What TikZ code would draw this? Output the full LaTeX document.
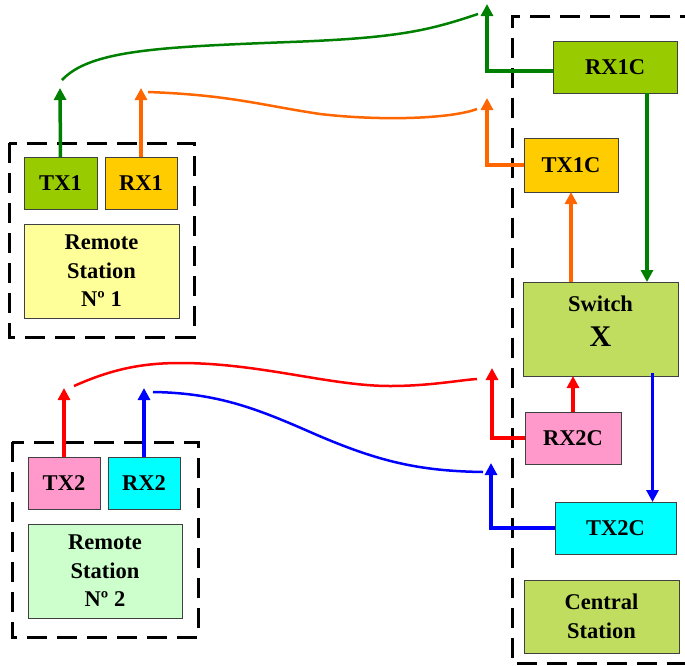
\documentclass[tikz,border=0pt]{standalone}
\usepackage{fontspec}
\setmainfont{Liberation Serif}
\usepackage{xcolor}
\usepackage{tikz}
\usetikzlibrary{arrows.meta}
\definecolor{txgreen}{RGB}{153,204,0}
\definecolor{rxorange}{RGB}{255,204,0}
\definecolor{remoteyellow}{RGB}{255,255,153}
\definecolor{txpink}{RGB}{255,153,204}
\definecolor{rxcyan}{RGB}{0,255,255}
\definecolor{remotemint}{RGB}{204,255,204}
\definecolor{centralolive}{RGB}{192,221,96}
\definecolor{wiregreen}{RGB}{0,128,0}
\definecolor{wireorange}{RGB}{255,102,0}

\begin{document}
\begin{tikzpicture}[x=1pt, y=-1pt,
  unit/.style={draw=black!75, line width=0.8pt, inner sep=0pt, outer sep=0pt, align=center, font=\bfseries\fontsize{22.5}{28.5}\selectfont},
  station/.style={draw=black, dash pattern=on 20pt off 10pt, line width=3pt},
  feed/.style={line width=3.5pt, -{Triangle[length=12pt,width=12pt]}},
  link/.style={line width=2.5pt}]
  \useasboundingbox (0,0) rectangle (685,665);
  % dashed station frames
  \draw[station] (9,143) rectangle (194,337);
  \draw[station] (12,442) rectangle (198,637);
  \draw[station] (700,16) -- (512,16) -- (512,663) -- (700,663);
  % remote station 1
  \node[unit, fill=txgreen, minimum width=73pt, minimum height=52pt] (tx1) at (60.5,183) {TX1};
  \node[unit, fill=rxorange, minimum width=72pt, minimum height=52pt] (rx1) at (141,183) {RX1};
  \node[unit, fill=remoteyellow, minimum width=155pt, minimum height=94pt] (rs1) at (101.5,271) {Remote\\Station\\Nº 1};
  % remote station 2
  \node[unit, fill=txpink, minimum width=72pt, minimum height=52pt] (tx2) at (64,483) {TX2};
  \node[unit, fill=rxcyan, minimum width=72pt, minimum height=52pt] (rx2) at (144,483) {RX2};
  \node[unit, fill=remotemint, minimum width=154pt, minimum height=94pt] (rs2) at (105,571) {Remote\\Station\\Nº 2};
  % central station
  \node[unit, fill=txgreen, minimum width=124pt, minimum height=52pt] (rx1c) at (615,67) {RX1C};
  \node[unit, fill=rxorange, minimum width=94pt, minimum height=54pt] (tx1c) at (571,165) {TX1C};
  \node[unit, fill=centralolive, minimum width=155pt, minimum height=94pt, text depth=16pt] (sw) at (600.5,329) {Switch\\[6pt]{\fontsize{30}{30}\selectfont X}};
  \node[unit, fill=txpink, minimum width=96pt, minimum height=52pt] (rx2c) at (573,438) {RX2C};
  \node[unit, fill=rxcyan, minimum width=121pt, minimum height=52pt] (tx2c) at (615.5,528) {TX2C};
  \node[unit, fill=centralolive, minimum width=155pt, minimum height=73pt] (cs) at (601.5,616.5) {Central\\Station};
  % arrow ends and curve ends
  \coordinate (tx1up) at (60,88);
  \coordinate (rx1up) at (141,88);
  \coordinate (tx2up) at (64,388);
  \coordinate (rx2up) at (144,388);
  \coordinate (rx1cup) at (487,4);
  \coordinate (tx1cup) at (487,98);
  \coordinate (rx2cup) at (492,368);
  \coordinate (tx2cup) at (491,463);
  \coordinate (gdown) at ([xshift=32pt]rx1c.south);
  \coordinate (bdown) at ([xshift=37pt]tx2c.north);
  \coordinate (ga) at (62,80);
  \coordinate (gb) at (478,14);
  \coordinate (oa) at (148,92);
  \coordinate (ob) at (477,109);
  \coordinate (ra) at (74,386);
  \coordinate (rb) at (477,379);
  \coordinate (ba) at (153,392);
  \coordinate (bb) at (483,472);
  % remote feeds
  \draw[feed, wiregreen] (tx1.north) -- (tx1up);
  \draw[feed, wireorange] (rx1.north) -- (rx1up);
  \draw[feed, red] (tx2.north) -- (tx2up);
  \draw[feed, blue] (rx2.north) -- (rx2up);
  % central feeds
  \draw[feed, wiregreen] ([yshift=-4pt]rx1c.west) -| (rx1cup);
  \draw[feed, wireorange] (tx1c.west) -| (tx1cup);
  \draw[feed, red] (rx2c.west) -| (rx2cup);
  \draw[feed, blue] (tx2c.west) -| (tx2cup);
  \draw[feed, wiregreen] (gdown) -- (gdown |- sw.north);
  \draw[feed, wireorange] (tx1c.south |- sw.north) -- (tx1c.south);
  \draw[feed, red] (rx2c.north) -- (rx2c.north |- sw.south);
  \draw[feed, blue] ([yshift=3pt]bdown |- sw.south) -- (bdown);
  % links between stations
  \draw[link, wiregreen] (ga) .. controls (90,50) and (160,47) .. (290,42) .. controls (400,38) and (430,30) .. (gb);
  \draw[link, wireorange] (oa) .. controls (230,95) and (260,105) .. (320,114) .. controls (380,121) and (450,119) .. (ob);
  \draw[link, red] (ra) .. controls (110,370) and (140,363) .. (180,363) .. controls (260,363) and (330,386) .. (390,386) .. controls (430,386) and (460,380) .. (rb);
  \draw[link, blue] (ba) .. controls (220,393) and (260,410) .. (317,435) .. controls (380,462) and (420,471) .. (bb);
\end{tikzpicture}
\end{document}
